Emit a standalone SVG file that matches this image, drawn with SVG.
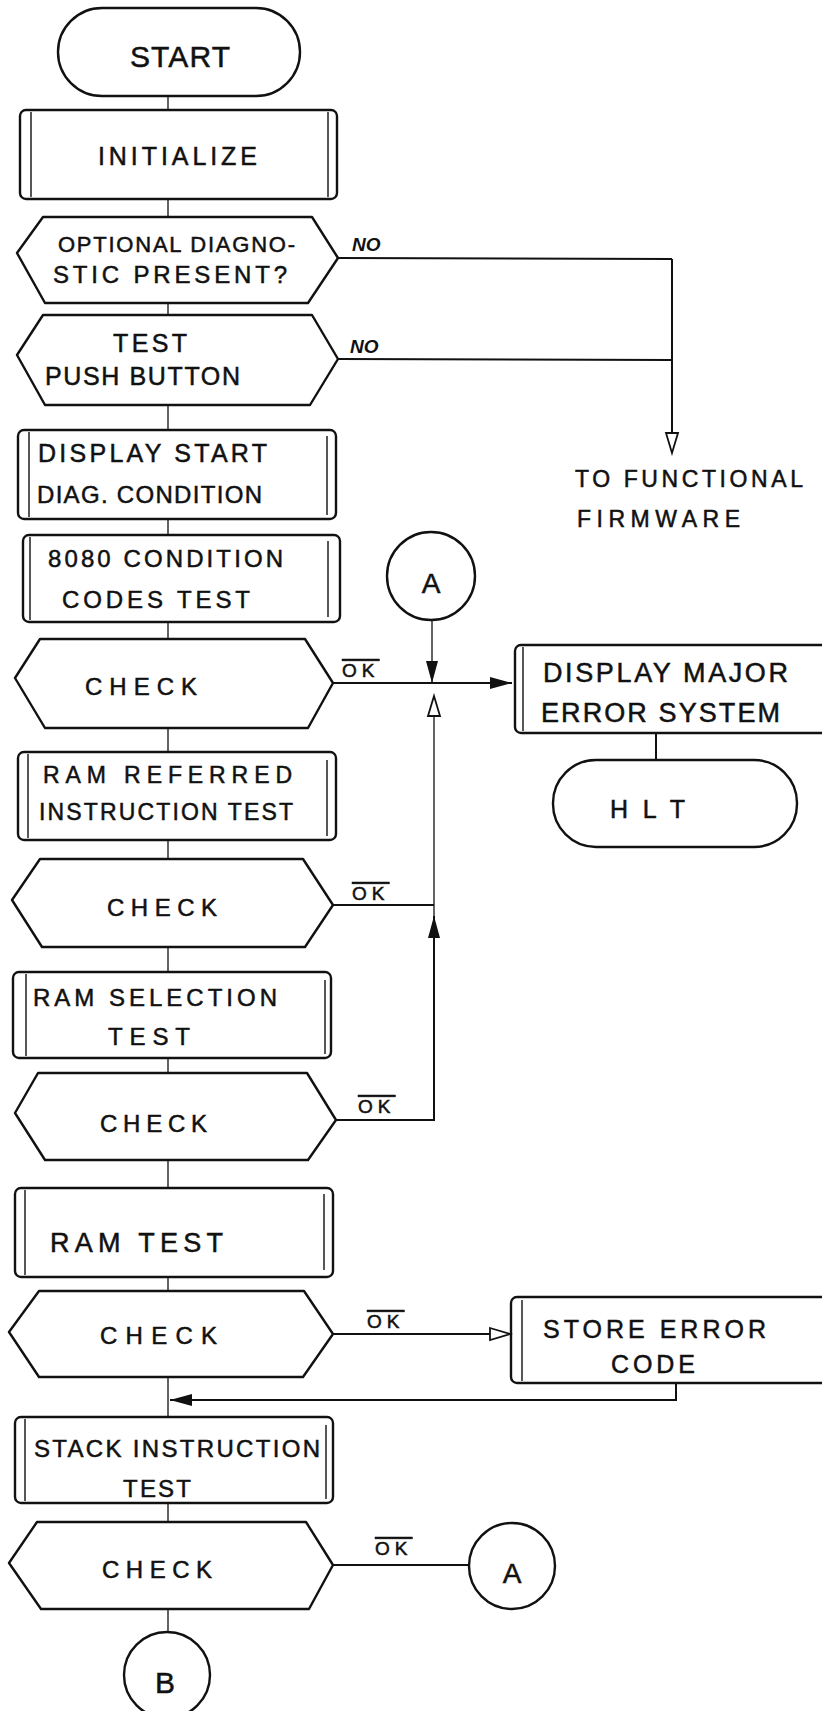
<svg xmlns="http://www.w3.org/2000/svg" width="822" height="1711" viewBox="0 0 822 1711">
<defs>
<style>
.bg{fill:#ffffff}
.sh{fill:none;stroke:#111;stroke-width:2.4;stroke-linejoin:round}
.in{fill:none;stroke:#111;stroke-width:1.4}
.ln{fill:none;stroke:#111;stroke-width:1.3}
.lt{fill:none;stroke:#111;stroke-width:2}
text{font-family:"Liberation Sans",Arial,sans-serif;fill:#111;stroke:#111;stroke-width:0.5}
.ok{text-decoration:overline;font-size:19px;letter-spacing:5px}
.no{font-size:19px;font-style:italic;font-weight:bold;stroke-width:0}
</style>
<marker id="af" markerUnits="userSpaceOnUse" markerWidth="24" markerHeight="14" refX="22" refY="7" orient="auto">
<path d="M0,1 L22,7 L0,13 Z" fill="#111"/>
</marker>
<marker id="ah" markerUnits="userSpaceOnUse" markerWidth="24" markerHeight="16" refX="21" refY="8" orient="auto">
<path d="M1,2 L21,8 L1,14 Z" fill="#fff" stroke="#111" stroke-width="1.8"/>
</marker>
</defs>
<rect class="bg" x="0" y="0" width="822" height="1711"/>

<g id="connectors">
<path class="ln" d="M168,96 V110 M168,199 V217 M168,303 V315 M168,405 V430 M168,519 V535 M168,622 V639 M168,728 V752 M168,840 V859 M168,947 V972 M168,1058 V1073 M168,1160 V1188 M168,1277 V1291 M168,1377 V1417 M168,1503 V1522 M168,1609 V1632"/>
<path class="lt" d="M338,258 L672,259 M338,359 L672,360"/>
<path class="lt" d="M672,259 V453" marker-end="url(#ah)"/>
<path class="lt" d="M333,683 H512" marker-end="url(#af)"/>
<path class="ln" d="M432,620 V683" marker-end="url(#af)"/>
<path class="lt" d="M336,1120 H434 V916" marker-end="url(#af)"/>
<path class="ln" d="M434,916 V696" marker-end="url(#ah)"/>
<path class="lt" d="M333,905 H434"/>
<path class="lt" d="M656,733 V760"/>
<path class="lt" d="M333,1334 H510" marker-end="url(#ah)"/>
<path class="lt" d="M676,1383 V1400 H170" marker-end="url(#af)"/>
<path class="lt" d="M333,1565 H469"/>
</g>

<g id="start">
<rect class="sh" x="58" y="8" width="242" height="88" rx="44"/>
<text x="130" y="67" font-size="30" textLength="100">START</text>
</g>

<g id="initialize">
<rect class="sh" x="20" y="110" width="317" height="89" rx="6"/>
<path class="in" d="M31,112 V197 M328,112 V197"/>
<text x="98" y="165" font-size="25" textLength="159">INITIALIZE</text>
</g>

<g id="optional">
<polygon class="sh" points="43,217 312,217 338,258 308,303 45,303 17,253"/>
<text x="58" y="252" font-size="22" textLength="237">OPTIONAL DIAGNO-</text>
<text x="53" y="283" font-size="24" textLength="234">STIC  PRESENT?</text>
<text class="no" x="352" y="251">NO</text>
</g>

<g id="pushbutton">
<polygon class="sh" points="43,315 312,315 338,359 310,405 45,405 17,355"/>
<text x="113" y="352" font-size="25" textLength="74">TEST</text>
<text x="45" y="385" font-size="25" textLength="195">PUSH  BUTTON</text>
<text class="no" x="350" y="353">NO</text>
</g>

<g id="functional">
<text x="575" y="487" font-size="23" textLength="228">TO FUNCTIONAL</text>
<text x="577" y="527" font-size="23" textLength="163">FIRMWARE</text>
</g>

<g id="displaystart">
<rect class="sh" x="18" y="430" width="318" height="89" rx="6"/>
<path class="in" d="M29,432 V517 M327,436 V515"/>
<text x="38" y="462" font-size="25" textLength="229">DISPLAY  START</text>
<text x="37" y="503" font-size="24" textLength="225">DIAG. CONDITION</text>
</g>

<g id="condcodes">
<rect class="sh" x="23" y="535" width="317" height="87" rx="6"/>
<path class="in" d="M30,537 V620 M328,541 V617"/>
<text x="48" y="567" font-size="24" textLength="235">8080 CONDITION</text>
<text x="62" y="608" font-size="24" textLength="188">CODES  TEST</text>
</g>

<g id="connA1">
<circle class="sh" cx="431" cy="576" r="44"/>
<text x="431" y="593" font-size="28" text-anchor="middle">A</text>
</g>

<g id="check1">
<polygon class="sh" points="40,639 305,639 333,683 308,728 45,728 15,678"/>
<text x="85" y="695" font-size="24" textLength="112">CHECK</text>
<text class="ok" x="342" y="677">OK</text>
</g>

<g id="majorerror">
<rect class="sh" x="515" y="645" width="330" height="88" rx="6"/>
<path class="in" d="M523,647 V731"/>
<text x="543" y="682" font-size="27" textLength="245">DISPLAY MAJOR</text>
<text x="541" y="722" font-size="27" textLength="239">ERROR  SYSTEM</text>
</g>

<g id="hlt">
<rect class="sh" x="553" y="760" width="244" height="87" rx="43"/>
<text x="610" y="818" font-size="25" textLength="75">H L T</text>
</g>

<g id="ramreferred">
<rect class="sh" x="18" y="752" width="318" height="88" rx="6"/>
<path class="in" d="M28,754 V838 M327,760 V836"/>
<text x="43" y="783" font-size="23" textLength="249">RAM  REFERRED</text>
<text x="39" y="820" font-size="23" textLength="254">INSTRUCTION  TEST</text>
</g>

<g id="check2">
<polygon class="sh" points="40,859 303,859 333,905 305,947 42,947 12,900"/>
<text x="107" y="916" font-size="24" textLength="110">CHECK</text>
<text class="ok" x="352" y="900">OK</text>
</g>

<g id="ramselection">
<rect class="sh" x="13" y="972" width="318" height="86" rx="6"/>
<path class="in" d="M26,974 V1056 M325,980 V1054"/>
<text x="33" y="1006" font-size="24" textLength="244">RAM  SELECTION</text>
<text x="108" y="1045" font-size="24" textLength="82">TEST</text>
</g>

<g id="check3">
<polygon class="sh" points="38,1073 307,1073 336,1120 308,1160 45,1160 15,1113"/>
<text x="100" y="1132" font-size="24" textLength="107">CHECK</text>
<text class="ok" x="358" y="1113">OK</text>
</g>

<g id="ramtest">
<rect class="sh" x="15" y="1188" width="318" height="89" rx="6"/>
<path class="in" d="M25,1190 V1275 M324,1194 V1270"/>
<text x="50" y="1252" font-size="27" textLength="173">RAM  TEST</text>
</g>

<g id="check4">
<polygon class="sh" points="39,1291 304,1291 333,1334 303,1377 39,1377 9,1332"/>
<text x="100" y="1344" font-size="24" textLength="117">CHECK</text>
<text class="ok" x="367" y="1328">OK</text>
</g>

<g id="storeerror">
<rect class="sh" x="511" y="1297" width="330" height="86" rx="6"/>
<path class="in" d="M522,1300 V1381"/>
<text x="543" y="1338" font-size="25" textLength="223">STORE  ERROR</text>
<text x="611" y="1373" font-size="25" textLength="84">CODE</text>
</g>

<g id="stacktest">
<rect class="sh" x="15" y="1417" width="318" height="86" rx="6"/>
<path class="in" d="M25,1419 V1501 M326,1425 V1499"/>
<text x="34" y="1457" font-size="24" textLength="286">STACK INSTRUCTION</text>
<text x="123" y="1497" font-size="24" textLength="68">TEST</text>
</g>

<g id="check5">
<polygon class="sh" points="37,1522 306,1522 333,1565 309,1609 41,1609 9,1563"/>
<text x="102" y="1578" font-size="24" textLength="110">CHECK</text>
<text class="ok" x="375" y="1555">OK</text>
</g>

<g id="connA2">
<circle class="sh" cx="512" cy="1566" r="43"/>
<text x="512" y="1583" font-size="28" text-anchor="middle">A</text>
</g>

<g id="connB">
<circle class="sh" cx="167" cy="1675" r="43"/>
<text x="165" y="1693" font-size="30" text-anchor="middle">B</text>
</g>
</svg>
